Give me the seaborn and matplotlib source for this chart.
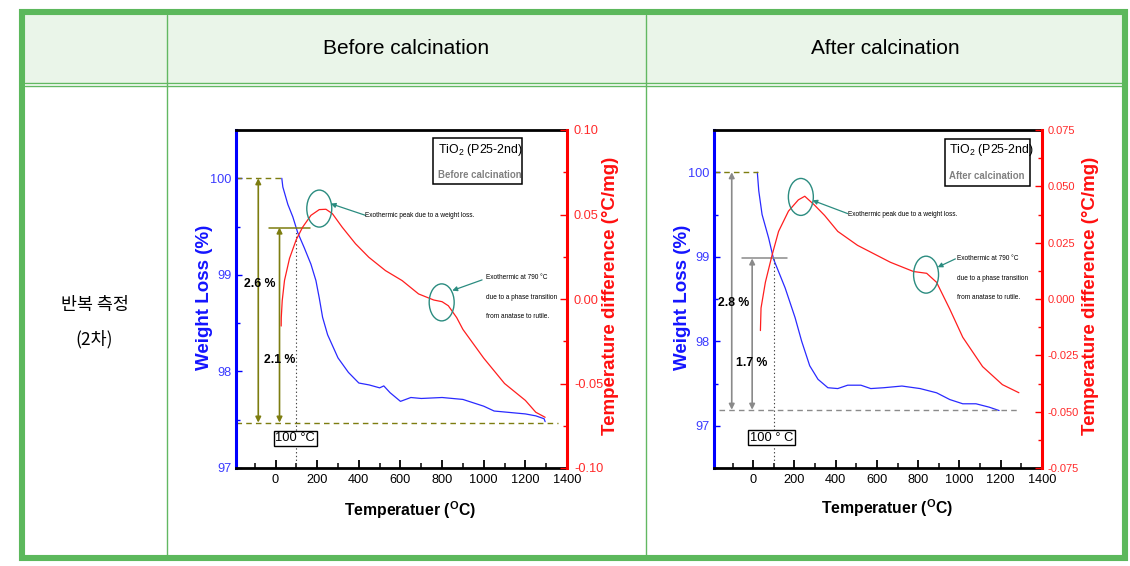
import numpy as np
import matplotlib
matplotlib.use("Agg")
import matplotlib.pyplot as plt
import seaborn as sns
from matplotlib.patches import Ellipse, Rectangle
from matplotlib.lines import Line2D
from matplotlib.ticker import MultipleLocator, FormatStrFormatter, FixedLocator
from matplotlib import font_manager as fm

# ---------------- data ----------------
col_headers = ["Before calcination", "After calcination"]
row_label = ["반복 측정", "(2차)"]

x_ticks = [0, 200, 400, 600, 800, 1000, 1200, 1400]

# Before calcination: TG (weight %) and DTA (degC/mg)
before_tg_temp = [30, 35, 59, 83, 106, 138, 170, 194, 210, 226, 250, 300, 350, 400,
                  450, 500, 520, 550, 600, 650, 700, 800, 900, 1000, 1050, 1100,
                  1200, 1250, 1290, 1295]
before_tg_weight = [100.0, 99.91, 99.73, 99.60, 99.44, 99.28, 99.11, 98.94, 98.76, 98.56,
                    98.38, 98.14, 97.99, 97.88, 97.86, 97.83, 97.85, 97.78, 97.69, 97.73,
                    97.72, 97.73, 97.71, 97.64, 97.59, 97.58, 97.56, 97.54, 97.51, 97.48]
before_dta_temp = [27, 27.5, 32, 43, 67, 99, 130, 170, 210, 242, 273, 320, 384, 448, 528,
                   608, 687, 760, 800, 830, 870, 900, 1000, 1100, 1200, 1250, 1295]
before_dta_val = [-0.016, -0.011, -0.001, 0.011, 0.024, 0.035, 0.0425, 0.0495, 0.0529,
                  0.0531, 0.0505, 0.0425, 0.0327, 0.0247, 0.0168, 0.0109, 0.003, -0.0006,
                  -0.0016, -0.004, -0.011, -0.018, -0.035, -0.050, -0.060, -0.067, -0.070]

# After calcination
after_tg_temp = [20, 27, 43, 75, 99, 155, 203, 235, 274, 314, 362, 410, 458, 522, 570,
                 633, 721, 809, 889, 953, 1016, 1080, 1144, 1192]
after_tg_weight = [100.0, 99.78, 99.5, 99.22, 98.97, 98.63, 98.28, 98.0, 97.71, 97.55,
                   97.45, 97.44, 97.48, 97.48, 97.44, 97.45, 97.47, 97.44, 97.39, 97.31,
                   97.26, 97.26, 97.22, 97.18]
after_dta_temp = [35, 38, 59, 91, 123, 171, 219, 250, 298, 346, 410, 506, 665, 777, 841,
                  889, 953, 1016, 1112, 1208, 1288]
after_dta_val = [-0.014, -0.004, 0.0074, 0.0193, 0.030, 0.039, 0.044, 0.0456, 0.0416,
                 0.0371, 0.030, 0.0238, 0.0163, 0.0122, 0.0114, 0.0074, -0.0045, -0.017,
                 -0.030, -0.038, -0.0416]

# ---------------- style ----------------
sns.set_theme(style="white")


def has_font(name):
    try:
        fm.findfont(fm.FontProperties(family=name), fallback_to_default=False)
        return True
    except Exception:
        return False


HAS_NARROW = has_font("Liberation Sans Narrow")
NARROW = "Liberation Sans Narrow" if HAS_NARROW else "Liberation Sans"
NK = 1.0 if HAS_NARROW else 0.84   # shrink factor when no narrow font
TICK_FS = 10.0 if HAS_NARROW else 9.2

plt.rcParams["font.family"] = [NARROW, "Noto Sans CJK KR", "DejaVu Sans"]
plt.rcParams["axes.unicode_minus"] = False
plt.rcParams["mathtext.default"] = "regular"

W, H = 1130, 566
fig = plt.figure(figsize=(W / 100, H / 100), dpi=100)
fig.patch.set_facecolor("white")


def FX(px):
    return px / W


def FY(py):
    return 1 - py / H


# ---------------- table ----------------
green = "#5cb85c"
thin_green = "#62b862"
fig.add_artist(Rectangle((FX(22), FY(83)), (1124.5 - 22) / W, (83 - 12) / H,
                         transform=fig.transFigure, facecolor="#eaf5e9",
                         edgecolor="none", zorder=0))
for yy in (83, 85.5):
    fig.add_artist(Line2D([FX(25), FX(1122)], [FY(yy), FY(yy)], transform=fig.transFigure,
                          color=thin_green, lw=1.0, zorder=1))
for xx in (167.3, 646.3):
    fig.add_artist(Line2D([FX(xx), FX(xx)], [FY(15), FY(555)], transform=fig.transFigure,
                          color=thin_green, lw=1.0, zorder=1))
fig.add_artist(Rectangle((FX(22), FY(558)), (1124.5 - 22) / W, (558 - 12) / H,
                         transform=fig.transFigure, fill=False, edgecolor=green,
                         lw=4.4, zorder=2))

fig.text(FX(406.5), FY(48), col_headers[0], ha="center", va="center", fontsize=15,
         family=["Liberation Sans", "DejaVu Sans"], color="black")
fig.text(FX(885), FY(48), col_headers[1], ha="center", va="center", fontsize=15,
         family=["Liberation Sans", "DejaVu Sans"], color="black")
fig.text(FX(94.5), FY(305), row_label[0], ha="center", va="center", fontsize=12.5,
         family=["Noto Sans CJK KR", "DejaVu Sans"], color="black")
fig.text(FX(94.5), FY(339), row_label[1], ha="center", va="center", fontsize=12.5,
         family=["Noto Sans CJK KR", "DejaVu Sans"], color="black")

# ---------------- charts ----------------
BLUE = "#2a2aff"
RED = "#ff1e1e"
TEAL = "#2b8c80"
OLIVE = "#7d7d10"
GREY = "#8a8a8a"


def draw_chart(rect, tg_t, tg_w, dta_t, dta_v, ylim_l, ylim_r, r_major, r_minor, r_fmt,
               cfg):
    ax = fig.add_axes(rect)
    ax.set_facecolor("none")
    sns.lineplot(x=tg_t, y=tg_w, ax=ax, color=BLUE, lw=0.9, sort=False, estimator=None)
    axr = ax.twinx()
    sns.lineplot(x=dta_t, y=dta_v, ax=axr, color=RED, lw=0.9, sort=False, estimator=None)

    ax.set_xlim(-190, 1400)
    ax.set_ylim(*ylim_l)
    axr.set_ylim(*ylim_r)

    # spines
    for s in ("top", "bottom"):
        ax.spines[s].set_color("black")
        ax.spines[s].set_linewidth(2.0)
        axr.spines[s].set_visible(False)
    ax.spines["left"].set_color("#0000ff")
    ax.spines["left"].set_linewidth(2.2)
    ax.spines["right"].set_visible(False)
    axr.spines["left"].set_visible(False)
    axr.spines["right"].set_color("#ff0000")
    axr.spines["right"].set_linewidth(2.2)

    # ticks
    ax.xaxis.set_major_locator(FixedLocator(x_ticks))
    ax.xaxis.set_minor_locator(MultipleLocator(100))
    ax.yaxis.set_major_locator(MultipleLocator(1))
    ax.yaxis.set_minor_locator(MultipleLocator(0.5))
    ax.yaxis.set_major_formatter(FormatStrFormatter("%d"))
    axr.yaxis.set_major_locator(MultipleLocator(r_major))
    axr.yaxis.set_minor_locator(MultipleLocator(r_minor))
    axr.yaxis.set_major_formatter(FormatStrFormatter(r_fmt))

    ax.tick_params(axis="x", which="major", bottom=True, top=False, direction="in",
                   length=6, width=1.3, color="black", labelcolor="black",
                   labelsize=TICK_FS, pad=4)
    ax.tick_params(axis="x", which="minor", bottom=True, top=False, direction="in",
                   length=3.5, width=1.1, color="black")
    ax.tick_params(axis="y", which="both", left=True, right=False, direction="in",
                   color="#0000ff", width=1.0)
    ax.tick_params(axis="y", which="major", length=4, labelcolor="#3a3aff",
                   labelsize=TICK_FS, pad=3)
    ax.tick_params(axis="y", which="minor", length=3)
    axr.tick_params(axis="y", which="both", right=True, left=False, direction="in",
                    color="#ff0000", width=1.0)
    axr.tick_params(axis="y", which="major", length=5, labelcolor="#ff2a2a",
                    labelsize=cfg["rfs"], pad=cfg["rpad"])
    axr.tick_params(axis="y", which="minor", length=3)

    # axis labels
    ax.set_xlabel(r"Temperatuer ($\mathregular{^{O}}$C)", fontsize=13.5 * NK,
                  fontweight="bold", color="black", va="center")
    ax.xaxis.set_label_coords(cfg["xl"][0], cfg["xl"][1])
    ax.set_ylabel("Weight Loss (%)", fontsize=13.5, fontweight="bold", color="#1414ff",
                  va="center", family=["Liberation Sans", "DejaVu Sans"])
    ax.yaxis.set_label_coords(cfg["yl"], 0.506)
    axr.set_ylabel("Temperature difference (°C/mg)", fontsize=13.5, fontweight="bold",
                   color="#ff1010", va="center", rotation=90,
                   family=["Liberation Sans", "DejaVu Sans"])
    axr.yaxis.set_label_coords(cfg["yr"], 0.51)

    # ---- weight-loss annotations (left axis) ----
    x0 = -190
    ax.plot([x0, cfg["top_end"]], [100, 100], ls=(0, (4, 3)), color=OLIVE, lw=1.0)
    ax.plot([cfg["base_start"], cfg["base_end"]], [cfg["base"], cfg["base"]],
            ls=(0, (4, 3)), color=cfg["c_base"], lw=1.0)
    ax.plot(cfg["mid_span"], [cfg["mid"], cfg["mid"]], color=cfg["c_mid"], lw=1.1)
    ax.annotate("", xy=(cfg["arr1_x"], 100), xytext=(cfg["arr1_x"], cfg["base"]),
                arrowprops=dict(arrowstyle="<|-|>", color=cfg["c_mid"], lw=1.2,
                                mutation_scale=8, shrinkA=0, shrinkB=0))
    ax.annotate("", xy=(cfg["arr2_x"], cfg["mid"]), xytext=(cfg["arr2_x"], cfg["base"]),
                arrowprops=dict(arrowstyle="<|-|>", color=cfg["c_mid"], lw=1.2,
                                mutation_scale=8, shrinkA=0, shrinkB=0))
    ax.plot([100, 100], [ylim_l[0], cfg["dot_top"]], ls=(0, (1.2, 2.2)), color="#444444",
            lw=0.8)
    ax.text(cfg["p1"][0], cfg["p1"][1], cfg["p1"][2], ha="center", va="center",
            fontsize=10.5 * NK, fontweight="bold", color="black")
    ax.text(cfg["p2"][0], cfg["p2"][1], cfg["p2"][2], ha="center", va="center",
            fontsize=10.5 * NK, fontweight="bold", color="black")
    ax.text(cfg["box100"][0], cfg["box100"][1], cfg["box100"][2], ha="center",
            va="center", fontsize=11 * NK, color="black",
            bbox=dict(boxstyle="square,pad=0.12", fc="white", ec="black", lw=1.0))

    # ---- DTA annotations (right axis) ----
    for (cx, cy) in cfg["ellipses"]:
        axr.add_patch(Ellipse((cx, cy), cfg["ew"], cfg["eh"], fill=False,
                              edgecolor=TEAL, lw=1.0, zorder=5))
    for (tx, ty, hx, hy) in cfg["arrows"]:
        axr.annotate("", xy=(hx, hy), xytext=(tx, ty),
                     arrowprops=dict(arrowstyle="-|>", color=TEAL, lw=0.9,
                                     mutation_scale=7, shrinkA=0, shrinkB=0))
    t1 = cfg["txt1"]
    axr.text(t1[0], t1[1], "Exothermic peak due to a weight loss.", ha="left",
             va="center", fontsize=5.6 * NK, color="black")
    t2 = cfg["txt2"]
    lines2 = ["Exothermic at 790 °C", "due to a phase transition",
              "from anatase to rutile."]
    for k, s in enumerate(lines2):
        axr.text(t2[0], t2[1 + k], s, ha="left", va="center", fontsize=5.6 * NK,
                 color="black")

    # ---- sample box ----
    bx0, bx1, by0, by1 = cfg["sbox"]
    ax.add_patch(Rectangle((bx0, by0), bx1 - bx0, by1 - by0, transform=ax.transAxes,
                           fill=False, edgecolor="black", lw=1.1, zorder=6))
    ax.text(cfg["stx"], 0.941, r"TiO$_2$ (P25-2nd)", transform=ax.transAxes,
            ha="left", va="center", fontsize=10.6 * NK, color="black")
    ax.text(cfg["stx"], cfg["sty2"], cfg["sample"], transform=ax.transAxes, ha="left",
            va="center", fontsize=8.3 * NK, fontweight="bold", color="#808080")
    return ax, axr


cfg1 = dict(xl=(0.526, -0.124), yl=-0.094, yr=1.13, rfs=TICK_FS, rpad=5,
            top_end=30, base=97.47, base_start=-190, base_end=1355, c_base=OLIVE,
            mid=99.49, mid_span=[-32, 167], c_mid=OLIVE, arr1_x=-83, arr2_x=19,
            dot_top=99.46,
            p1=(-76, 98.91, "2.6 %"), p2=(19, 98.12, "2.1 %"),
            box100=(95, 97.31, "100 °C"),
            ellipses=[(210, 0.0535), (798, -0.002)], ew=120, eh=0.0219,
            arrows=[(432, 0.0495, 265, 0.0564), (992, 0.0113, 849, 0.005)],
            txt1=(432, 0.0495), txt2=(1013, 0.0129, 0.001, -0.0105),
            sbox=(0.595, 0.864, 0.840, 0.976), stx=0.609, sty2=0.867,
            sample="Before calcination")

cfg2 = dict(xl=(0.527, -0.118), yl=-0.095, yr=1.147, rfs=TICK_FS - 1.2, rpad=4,
            top_end=25, base=97.19, base_start=-164, base_end=1280, c_base=GREY,
            mid=98.98, mid_span=[-53, 163], c_mid=GREY, arr1_x=-104, arr2_x=-5,
            dot_top=98.98,
            p1=(-97, 98.45, "2.8 %"), p2=(-6, 97.74, "1.7 %"),
            box100=(89, 96.86, "100 ° C"),
            ellipses=[(231, 0.0453), (838, 0.0108)], ew=121, eh=0.0164,
            arrows=[(458, 0.0379, 287, 0.0438), (980, 0.0178, 894, 0.0141)],
            txt1=(458, 0.0376), txt2=(989, 0.018, 0.0089, 0.0007),
            sbox=(0.704, 0.963, 0.834, 0.973), stx=0.717, sty2=0.864,
            sample="After calcination")

draw_chart([FX(236), FY(468), 331 / W, 338 / H], before_tg_temp, before_tg_weight,
           before_dta_temp, before_dta_val, (97, 100.5), (-0.1, 0.1), 0.05, 0.025,
           "%.2f", cfg1)
draw_chart([FX(714), FY(468), 328 / W, 338 / H], after_tg_temp, after_tg_weight,
           after_dta_temp, after_dta_val, (96.5, 100.5), (-0.075, 0.075), 0.025, 0.0125,
           "%.3f", cfg2)

fig.savefig("out.png", dpi=100, facecolor="white")
